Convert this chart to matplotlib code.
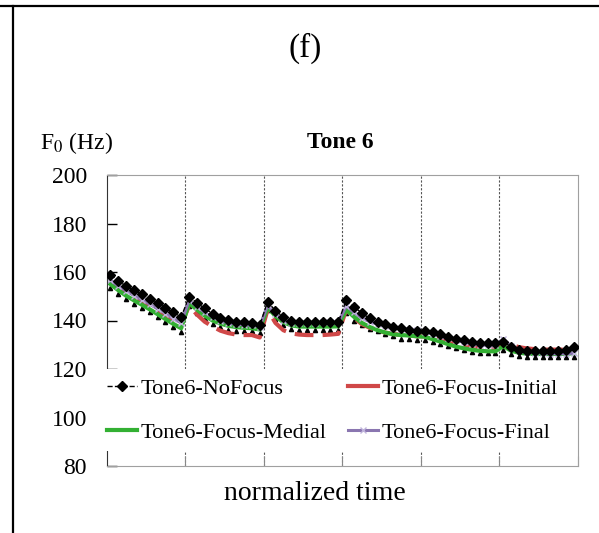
import numpy as np
import matplotlib.pyplot as plt
from matplotlib.lines import Line2D

plt.rcParams['font.family'] = ['Liberation Serif', 'DejaVu Serif']

# F0 contours, 6 syllables x 10 normalized points
no_focus = [158.9, 156.3, 154.2, 152.5, 150.8, 149.0, 147.2, 145.3, 143.3, 141.4,
            149.8, 147.3, 145.0, 142.8, 141.2, 140.2, 139.5, 139.2, 138.8, 138.0,
            147.8, 144.0, 141.5, 139.8, 139.3, 139.2, 139.2, 139.2, 139.3, 139.3,
            148.5, 145.7, 143.0, 140.9, 139.5, 138.5, 137.5, 136.8, 136.2, 135.8,
            135.8, 135.2, 134.3, 133.4, 132.5, 131.8, 131.3, 130.9, 130.8, 130.9,
            131.0, 129.2, 128.0, 127.5, 127.3, 127.3, 127.3, 127.5, 128.0, 129.0]
focus_initial = [156.0, 153.5, 151.5, 149.5, 147.8, 146.0, 144.0, 142.0, 140.0, 138.2,
                 146.0, 142.5, 139.5, 137.5, 135.8, 134.8, 134.2, 134.0, 134.0, 133.0,
                 144.5, 139.0, 136.0, 134.7, 134.2, 134.0, 134.0, 134.0, 134.2, 134.5,
                 144.5, 141.0, 138.5, 137.0, 135.8, 135.0, 134.5, 134.0, 133.8, 133.5,
                 133.5, 132.8, 132.0, 131.0, 130.2, 129.5, 129.0, 128.5, 128.3, 128.3,
                 131.0, 130.0, 129.0, 128.5, 128.2, 128.0, 128.0, 128.0, 128.0, 128.0]
focus_medial = [155.0, 152.5, 150.2, 148.3, 146.5, 144.6, 142.6, 140.6, 138.6, 136.8,
                147.2, 144.5, 142.0, 140.0, 138.7, 137.8, 137.3, 137.0, 136.8, 136.3,
                145.5, 141.8, 139.3, 138.0, 137.5, 137.5, 137.5, 137.5, 137.5, 137.6,
                144.5, 141.5, 139.0, 137.3, 136.0, 135.0, 134.3, 134.0, 133.8, 133.5,
                133.3, 132.3, 131.3, 130.2, 129.2, 128.5, 127.9, 127.5, 127.3, 127.3,
                129.5, 127.5, 126.7, 126.3, 126.2, 126.2, 126.2, 126.2, 126.3, 126.5]
focus_final = [156.5, 154.2, 152.2, 150.3, 148.5, 146.7, 144.8, 142.8, 140.8, 139.0,
               148.3, 145.7, 143.3, 141.3, 140.0, 139.0, 138.5, 138.2, 138.0, 137.5,
               146.3, 142.5, 140.0, 139.0, 139.0, 139.0, 139.0, 139.2, 139.2, 139.2,
               146.0, 143.3, 141.0, 139.5, 138.5, 137.7, 137.0, 136.5, 136.2, 136.0,
               135.3, 134.5, 133.6, 132.7, 131.8, 131.0, 130.4, 129.9, 129.7, 129.8,
               132.3, 129.5, 128.0, 127.2, 126.8, 126.5, 126.3, 126.3, 126.3, 126.5]
# extra series shown only as small triangles (not in legend)
medial_tri = [153.5, 151.0, 148.8, 147.0, 145.2, 143.3, 141.3, 139.3, 137.3, 135.3,
              146.0, 143.0, 140.5, 138.7, 137.3, 136.2, 135.8, 135.6, 135.5, 135.0,
              144.5, 140.5, 138.0, 136.5, 136.0, 136.0, 136.0, 136.0, 136.0, 136.2,
              143.0, 140.0, 138.0, 136.6, 135.5, 134.6, 133.5, 132.5, 132.2, 131.8,
              132.0, 131.0, 130.3, 129.3, 128.5, 127.7, 127.1, 126.7, 126.5, 126.5,
              128.0, 126.0, 125.3, 125.0, 124.8, 124.8, 124.8, 124.8, 124.8, 125.0]

labels = ['Tone6-NoFocus', 'Tone6-Focus-Initial', 'Tone6-Focus-Medial', 'Tone6-Focus-Final']
y_ticks = [80, 100, 120, 140, 160, 180, 200]
n_syll = 6
pts = 10

W, H = 599, 533
fig = plt.figure(figsize=(W / 100, H / 100), dpi=100)
ax = fig.add_axes([106.5 / W, 67 / H, 471.5 / W, 291 / H])

x = np.arange(len(no_focus))

red = '#d04848'
ax.plot(x, medial_tri, linestyle='none', marker='^', markersize=3, color='black', zorder=2)
l1, = ax.plot(x, no_focus, color='black', linestyle='--', linewidth=1,
              marker='D', markersize=4.8, zorder=2.6)
ax.plot(x, focus_initial, color=red, linestyle=(0, (4.5, 2.2)), linewidth=3, zorder=2.2)
l3, = ax.plot(x, focus_medial, color='#33b033', linewidth=3, zorder=2.3)
l4, = ax.plot(x, focus_final, color='#8a76b0', linewidth=2.2, marker='x',
              markersize=4, markeredgecolor='#c0b4dc', markeredgewidth=1, zorder=2.4)
# solid short key for the dashed red series
l2 = Line2D([], [], color=red, linewidth=3)

ax.set_xlim(-0.5, n_syll * pts - 0.5)
ax.set_ylim(80, 200)
ax.set_yticks(y_ticks)
bounds = [i * pts - 0.5 for i in range(1, n_syll)]
ax.set_xticks(bounds + [n_syll * pts - 0.5])
ax.set_xticklabels([])
for b in bounds:
    ax.axvline(b, color='#555555', linestyle=(0, (2, 1.5)), linewidth=0.8, zorder=1)

ax.tick_params(axis='y', direction='in', length=7, width=1, labelsize=17, pad=14)
ax.tick_params(axis='x', direction='in', length=7, width=0.8, color='#888888')
ax.spines['left'].set_color('#333333')
for s in ['top', 'right', 'bottom']:
    ax.spines[s].set_color('#a0a0a0')

# legend filled column-wise, so order it to read row by row
handles = [l1, l3, l2, l4]
leg_labels = [labels[0], labels[2], labels[1], labels[3]]
leg = ax.legend(handles, leg_labels, ncol=2, loc='lower left',
                bbox_to_anchor=(-0.018, 0.05), fontsize=16, frameon=True,
                facecolor='white', edgecolor='none', framealpha=1, fancybox=False,
                handlelength=1.35, handletextpad=0.15, columnspacing=1.0,
                labelspacing=1.05, borderpad=0.4, borderaxespad=0)
leg.set_zorder(5)

fig.text(305 / W, 1 - 48 / H, '(f)', fontsize=24, ha='center', va='center')
fig.text(40 / W, 1 - 143 / H, r'F$_0$ (Hz)', fontsize=17, ha='left', va='center',
         math_fontfamily='stix')
fig.text(340 / W, 1 - 143 / H, 'Tone 6', fontsize=17, fontweight='bold',
         ha='center', va='center')
fig.text(315 / W, 1 - 493 / H, 'normalized time', fontsize=20, ha='center', va='center')

# panel border
fig.add_artist(Line2D([0, 1], [1 - 5.5 / H, 1 - 5.5 / H], color='black', linewidth=1.6,
                      transform=fig.transFigure))
fig.add_artist(Line2D([12.5 / W, 12.5 / W], [0, 1 - 5.5 / H], color='black', linewidth=1.6,
                      transform=fig.transFigure))

fig.savefig('out.png', dpi=100, facecolor='white')
